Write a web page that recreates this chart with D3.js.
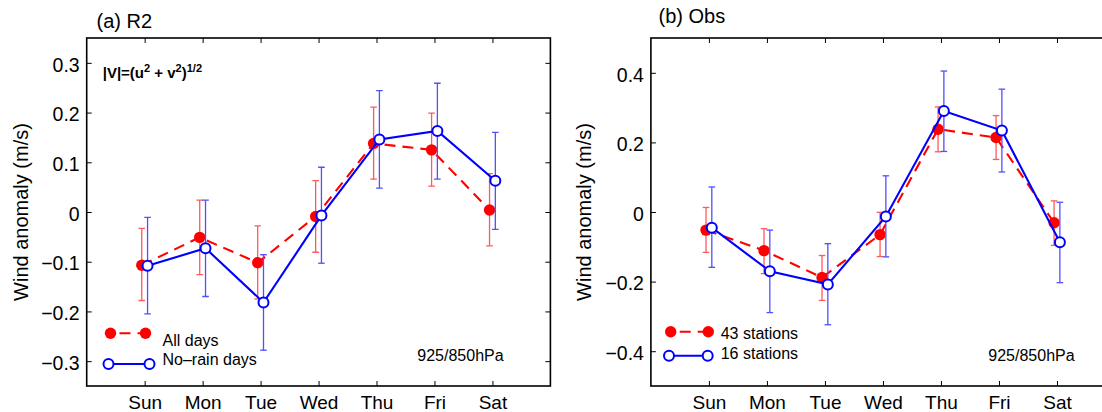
<!DOCTYPE html>
<html>
<head>
<meta charset="utf-8">
<script src="https://cdn.jsdelivr.net/npm/d3@7"></script>
<style>
  html, body { margin: 0; padding: 0; background: #fff; }
  svg { display: block; font-family: "Liberation Sans", Arial, Helvetica, sans-serif; }
</style>
</head>
<body>
<svg id="chart" width="1102" height="412"></svg>
<script>
// ---------------- data ----------------
const days = ["Sun", "Mon", "Tue", "Wed", "Thu", "Fri", "Sat"];

// (a) R2 reanalysis
const r2AllMean    = [-0.107, -0.051, -0.102, -0.009, 0.138, 0.125, 0.004];
const r2AllLo      = [-0.178, -0.126, -0.175, -0.081, 0.066, 0.052, -0.068];
const r2AllHi      = [-0.033, 0.024, -0.028, 0.063, 0.211, 0.199, 0.077];
const r2NoRainMean = [-0.108, -0.073, -0.182, -0.007, 0.146, 0.163, 0.063];
const r2NoRainLo   = [-0.205, -0.170, -0.278, -0.103, 0.048, 0.066, -0.035];
const r2NoRainHi   = [-0.011, 0.024, -0.086, 0.090, 0.244, 0.259, 0.160];

// (b) Observations
const obs43Mean = [-0.052, -0.111, -0.188, -0.065, 0.238, 0.214, -0.031];
const obs43Lo   = [-0.116, -0.177, -0.254, -0.128, 0.173, 0.151, -0.096];
const obs43Hi   = [0.013, -0.048, -0.125, -0.001, 0.302, 0.277, 0.032];
const obs16Mean = [-0.045, -0.170, -0.208, -0.013, 0.290, 0.234, -0.087];
const obs16Lo   = [-0.159, -0.289, -0.324, -0.129, 0.174, 0.115, -0.203];
const obs16Hi   = [0.072, -0.052, -0.091, 0.104, 0.405, 0.353, 0.028];

const r2Ticks  = [-0.3, -0.2, -0.1, 0, 0.1, 0.2, 0.3];
const obsTicks = [-0.4, -0.2, 0, 0.2, 0.4];
const r2Domain  = [-0.35, 0.35];
const obsDomain = [-0.5, 0.5];

const seriesLabelsR2  = ["All days", "No\u2013rain days"];
const seriesLabelsObs = ["43 stations", "16 stations"];
const levelLabel = "925/850hPa";
const yTitle = "Wind anomaly (m/s)";

// ---------------- styles ----------------
const RED = "#ff0000", BLUE = "#0000ff";
const RED_BAR = "#ff5a5a", BLUE_BAR = "#5050ff";
const DASH = "11,7";
const R_FILLED = 5.7, R_OPEN = 5.0;
const svg = d3.select("#chart");

function zip(m, lo, hi) { return m.map((v, i) => ({ i: i + 1, v, lo: lo[i], hi: hi[i] })); }

function drawPanel(cfg) {
  const g = svg.append("g");
  const x = d3.scaleLinear().domain([0, 8]).range([cfg.left, cfg.right]);
  const y = d3.scaleLinear().domain(cfg.domain).range([386, 38]);
  const clipId = "clip" + cfg.id;
  svg.append("clipPath").attr("id", clipId).append("rect")
    .attr("x", cfg.left).attr("y", 38).attr("width", cfg.right - cfg.left).attr("height", 348);

  // axes (inward ticks)
  const fmt = d => d === 0 ? "0" : d3.format(".1f")(d).replace("-", "\u2212");
  const ax = g.append("g").attr("class", "axes");
  const left = ax.append("g").attr("transform", `translate(${cfg.left},0)`)
    .call(d3.axisLeft(y).tickValues(cfg.ticks).tickFormat(fmt).tickSize(-5).tickPadding(7));
  left.selectAll("text").attr("font-size", 19.5).attr("dy", "0.42em");
  ax.append("g").attr("transform", `translate(${cfg.right},0)`)
    .call(d3.axisRight(y).tickValues(cfg.ticks).tickFormat("").tickSize(-5));
  ax.append("g").attr("transform", `translate(0,38)`)
    .call(d3.axisTop(x).tickValues([1,2,3,4,5,6,7]).tickFormat("").tickSize(-5));
  const bot = ax.append("g").attr("transform", `translate(0,386)`)
    .call(d3.axisBottom(x).tickValues([1,2,3,4,5,6,7]).tickFormat(d => days[d - 1]).tickSize(-5).tickPadding(10));
  bot.selectAll("text").attr("font-size", 19);
  ax.selectAll(".domain").remove();
  ax.selectAll("line").attr("stroke", "#000").attr("stroke-width", 1);
  ax.selectAll("text").attr("fill", "#000").attr("font-family", null);
  g.append("rect").attr("x", cfg.left).attr("y", 38)
    .attr("width", cfg.right - cfg.left).attr("height", 348)
    .attr("fill", "none").attr("stroke", "#000").attr("stroke-width", 1.6);

  const plot = g.append("g").attr("clip-path", `url(#${clipId})`);

  function series(data, off, color, barColor, dashed, filled) {
    const s = plot.append("g");
    const bars = s.selectAll("g.eb").data(data).join("g").attr("class", "eb")
      .attr("stroke", barColor).attr("stroke-width", 1.3);
    bars.append("line").attr("x1", d => x(d.i + off)).attr("x2", d => x(d.i + off))
      .attr("y1", d => y(d.lo)).attr("y2", d => y(d.hi));
    bars.append("line").attr("x1", d => x(d.i + off) - 3.3).attr("x2", d => x(d.i + off) + 3.3)
      .attr("y1", d => y(d.lo)).attr("y2", d => y(d.lo));
    bars.append("line").attr("x1", d => x(d.i + off) - 3.3).attr("x2", d => x(d.i + off) + 3.3)
      .attr("y1", d => y(d.hi)).attr("y2", d => y(d.hi));
    const line = d3.line().x(d => x(d.i + off)).y(d => y(d.v));
    s.append("path").datum(data).attr("d", line).attr("fill", "none")
      .attr("stroke", color).attr("stroke-width", 2.1)
      .attr("stroke-dasharray", dashed ? DASH : null);
    s.selectAll("circle").data(data).join("circle")
      .attr("cx", d => x(d.i + off)).attr("cy", d => y(d.v))
      .attr("r", filled ? R_FILLED : R_OPEN)
      .attr("fill", filled ? color : "#fff")
      .attr("stroke", filled ? "none" : color).attr("stroke-width", 2);
  }
  series(cfg.red, -0.05, RED, RED_BAR, true, true);
  series(cfg.blue, 0.05, BLUE, BLUE_BAR, false, false);

  // titles
  svg.append("text").attr("x", cfg.titleX).attr("y", cfg.titleY).attr("font-size", 20).text(cfg.title);
  svg.append("text").attr("transform", `translate(${cfg.yLabelX},212) rotate(-90)`)
    .attr("text-anchor", "middle").attr("font-size", 20).text(yTitle);
  svg.append("text").attr("x", cfg.levelX).attr("y", cfg.levelY).attr("font-size", 16).text(levelLabel);

  // legend
  const L = cfg.legend;
  const lg = svg.append("g");
  lg.append("line").attr("x1", L.rx1).attr("x2", L.rx2).attr("y1", L.ry).attr("y2", L.ry)
    .attr("stroke", RED).attr("stroke-width", 2.1).attr("stroke-dasharray", DASH).attr("stroke-dashoffset", -9);
  [L.rx1, L.rx2].forEach(cx => lg.append("circle").attr("cx", cx).attr("cy", L.ry).attr("r", R_FILLED).attr("fill", RED));
  lg.append("line").attr("x1", L.bx1).attr("x2", L.bx2).attr("y1", L.by).attr("y2", L.by)
    .attr("stroke", BLUE).attr("stroke-width", 2.1);
  [L.bx1, L.bx2].forEach(cx => lg.append("circle").attr("cx", cx).attr("cy", L.by).attr("r", R_OPEN)
    .attr("fill", "#fff").attr("stroke", BLUE).attr("stroke-width", 2));
  lg.append("text").attr("x", L.tx).attr("y", L.t1y).attr("font-size", 16).text(cfg.labels[0]);
  lg.append("text").attr("x", L.tx).attr("y", L.t2y).attr("font-size", 16).text(cfg.labels[1]);
  return { x, y };
}

drawPanel({
  id: "a", left: 86.7, right: 550.4, domain: r2Domain, ticks: r2Ticks,
  red: zip(r2AllMean, r2AllLo, r2AllHi), blue: zip(r2NoRainMean, r2NoRainLo, r2NoRainHi),
  title: "(a) R2", titleX: 96.5, titleY: 28, yLabelX: 28,
  levelX: 417.3, levelY: 360.5, labels: seriesLabelsR2,
  legend: { rx1: 110.5, rx2: 145.5, ry: 333.3, bx1: 108.5, bx2: 149.5, by: 364, tx: 162.5, t1y: 345.5, t2y: 365 }
});
drawPanel({
  id: "b", left: 650.9, right: 1115, domain: obsDomain, ticks: obsTicks,
  red: zip(obs43Mean, obs43Lo, obs43Hi), blue: zip(obs16Mean, obs16Lo, obs16Hi),
  title: "(b) Obs", titleX: 658.5, titleY: 23, yLabelX: 591,
  levelX: 988.3, levelY: 361, labels: seriesLabelsObs,
  legend: { rx1: 670.7, rx2: 708.3, ry: 331.7, bx1: 669, bx2: 707.7, by: 355.7, tx: 720.7, t1y: 339.3, t2y: 359 }
});

// annotation in panel (a): |V|=(u^2 + v^2)^(1/2)
const ann = svg.append("text").attr("x", 102.7).attr("y", 77.5)
  .attr("font-size", 15).attr("font-weight", "bold");
ann.append("tspan").text("|V|=(u");
ann.append("tspan").attr("font-size", 11).attr("dy", -6).text("2");
ann.append("tspan").attr("dy", 6).text(" + v");
ann.append("tspan").attr("font-size", 11).attr("dy", -6).text("2");
ann.append("tspan").attr("dy", 6).text(")");
ann.append("tspan").attr("font-size", 11).attr("dy", -6).text("1/2");
</script>
</body>
</html>
